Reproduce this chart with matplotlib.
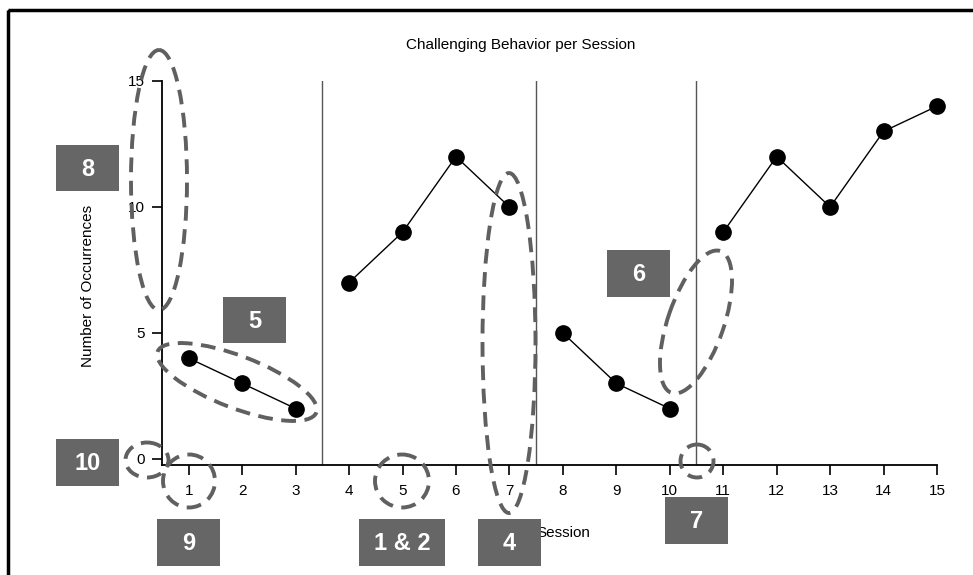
import matplotlib
matplotlib.use("Agg")
import matplotlib.pyplot as plt
from matplotlib.patches import Ellipse, Rectangle
from matplotlib.transforms import Affine2D

plt.rcParams['font.family'] = ['Liberation Sans', 'DejaVu Sans']

# ---- data ----
sessions = [[1, 2, 3], [4, 5, 6, 7], [8, 9, 10], [11, 12, 13, 14, 15]]
occurrences = [[4, 3, 2], [7, 9, 12, 10], [5, 3, 2], [9, 12, 10, 13, 14]]
phase_changes = [3.5, 7.5, 10.5]
x_ticks = list(range(1, 16))
y_ticks = [0, 5, 10, 15]
title = "Challenging Behavior per Session"
xlabel = "Session"
ylabel = "Number of Occurrences"
box_labels = ["8", "5", "10", "9", "1 & 2", "4", "6", "7"]

# ---- layout (pixels) ----
W, H = 973, 575
fig = plt.figure(figsize=(W / 100, H / 100), dpi=100)
L, R, T, B = 162, 937, 81, 465
ax = fig.add_axes([L / W, 1 - B / H, (R - L) / W, (B - T) / H])

for xs, ys in zip(sessions, occurrences):
    ax.plot(xs, ys, color='black', lw=1.0, marker='o', ms=11, mfc='black',
            mec='black', zorder=3, clip_on=False)
for xc in phase_changes:
    ax.axvline(xc, color='#555555', lw=1.0, zorder=1)

ax.set_xlim(0.5, 15)
ax.set_ylim(-0.24, 15)
ax.set_xticks(x_ticks)
ax.set_yticks(y_ticks)
for s in ['top', 'right']:
    ax.spines[s].set_visible(False)
for s in ['left', 'bottom']:
    ax.spines[s].set_linewidth(1.3)
ax.tick_params(axis='both', direction='out', length=7, width=1.2,
               labelsize=11, colors='black')
ax.tick_params(axis='x', pad=7)
ax.tick_params(axis='y', pad=5)
ax.set_xlabel(xlabel, fontsize=11)
ax.set_ylabel(ylabel, fontsize=11)
ax.xaxis.set_label_coords((563 - L) / (R - L), -(533 - B) / (B - T))
ax.xaxis.label.set_va('center')
ax.yaxis.set_label_coords((88 - L) / (R - L), (B - 286) / (B - T))
ax.yaxis.label.set_va('center')

pix = Affine2D().scale(1, -1).translate(0, H)
fig.text(521, 45, title, transform=pix, ha='center', va='center', fontsize=11)

# outer frame (top and left visible)
fig.add_artist(Rectangle((8, 10), 1100, 700, transform=pix, fill=False,
                         lw=2.5, ec='black'))

# dashed ellipses: (cx, cy, width, height, angle)
ellipses = [
    (159, 180, 56, 260, 0),
    (237, 382, 170, 52, 21),
    (147, 460, 43, 35, 0),
    (189, 481, 52, 53, 0),
    (402, 481, 54, 53, 0),
    (509, 343, 53, 340, 0),
    (696, 322, 150, 56, -71),
    (697, 461, 33, 33, 0),
]
for cx, cy, w, h, a in ellipses:
    fig.add_artist(Ellipse((cx, cy), w, h, angle=a, transform=pix, fill=False,
                           ec='#606060', lw=2.8, ls=(0, (3.8, 2.2))))

# numbered boxes: (x0, y0, w, h)
boxes = [
    (56, 145, 63, 46),
    (223, 297, 63, 46),
    (56, 439, 63, 47),
    (157, 519, 63, 47),
    (359, 519, 86, 47),
    (478, 519, 63, 47),
    (607, 250, 63, 47),
    (665, 497, 63, 47),
]
for (x0, y0, w, h), lab in zip(boxes, box_labels):
    fig.add_artist(Rectangle((x0, y0), w, h, transform=pix, fc='#666666',
                             ec='none', zorder=5))
    fig.text(x0 + w / 2, y0 + h / 2 + 1, lab, transform=pix, ha='center',
             va='center', color='white', fontsize=17, fontweight='bold',
             zorder=6)

fig.savefig('out.png', dpi=100)
